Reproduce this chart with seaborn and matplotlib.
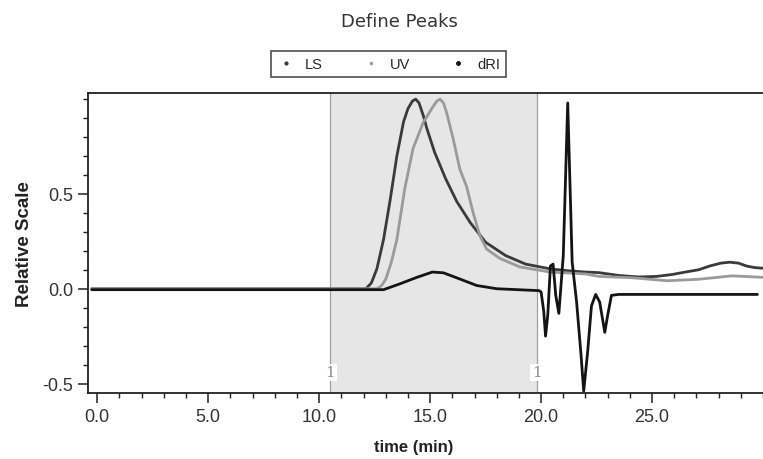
import numpy as np
import pandas as pd
import matplotlib
matplotlib.use("Agg")
import matplotlib.pyplot as plt
import seaborn as sns
from matplotlib.lines import Line2D
from matplotlib.ticker import MultipleLocator, FormatStrFormatter

# ---- data ----
ls_time = [-0.25, 5.0, 10.0, 12.1, 12.35, 12.6, 12.9, 13.2, 13.5, 13.8, 14.0, 14.2, 14.35,
           14.5, 14.7, 14.84, 15.2, 15.7, 16.2, 16.8, 17.5, 18.4, 19.3, 20.4, 21.2, 22.0,
           22.6, 23.5, 24.4, 25.2, 25.9, 26.5, 27.1, 27.6, 28.1, 28.5, 28.9, 29.25, 29.6, 30.0]
ls_value = [0.0, 0.0, 0.0, 0.0, 0.03, 0.105, 0.26, 0.47, 0.70, 0.88, 0.95, 0.99, 1.0,
            0.98, 0.91, 0.85, 0.72, 0.58, 0.46, 0.35, 0.245, 0.175, 0.13, 0.105, 0.095, 0.088,
            0.085, 0.07, 0.062, 0.065, 0.075, 0.088, 0.10, 0.12, 0.135, 0.14, 0.135, 0.12,
            0.112, 0.108]

uv_time = [-0.25, 5.0, 10.0, 12.6, 12.8, 13.0, 13.25, 13.5, 13.86, 14.23, 14.7, 15.1, 15.3,
           15.45, 15.6, 15.74, 16.04, 16.34, 16.64, 16.94, 17.24, 17.54, 18.14, 19.04, 20.4,
           22.0, 22.6, 24.1, 25.7, 27.1, 28.6, 30.0]
uv_value = [0.0, 0.0, 0.0, 0.0, 0.015, 0.05, 0.14, 0.26, 0.53, 0.74, 0.88, 0.955, 0.99,
            1.0, 0.98, 0.93, 0.79, 0.63, 0.54, 0.40, 0.28, 0.21, 0.16, 0.115, 0.088,
            0.078, 0.065, 0.058, 0.042, 0.05, 0.068, 0.06]

dri_time = [-0.25, 5.0, 10.0, 12.9, 13.64, 14.4, 15.1, 15.6, 16.3, 17.1, 18.0, 19.9, 20.0,
            20.12, 20.2, 20.3, 20.42, 20.54, 20.66, 20.8, 21.0, 21.2, 21.4, 21.6, 21.8,
            21.92, 22.1, 22.27, 22.46, 22.64, 22.87, 23.0, 23.17, 23.5, 29.75]
dri_value = [-0.005, -0.005, -0.005, -0.005, 0.026, 0.06, 0.088, 0.084, 0.053, 0.017, 0.0,
             -0.01, -0.017, -0.12, -0.25, -0.14, 0.12, 0.13, -0.035, -0.13, 0.175, 0.98,
             0.14, -0.07, -0.35, -0.54, -0.33, -0.09, -0.03, -0.07, -0.23, -0.14, -0.035,
             -0.03, -0.03]

series_names = ["LS", "UV", "dRI"]
peak_limits = [10.5, 19.8]
x_ticks = [0.0, 5.0, 10.0, 15.0, 20.0, 25.0]
y_ticks = [-0.5, 0.0, 0.5]

colors = {"LS": "#3a3a3a", "UV": "#9a9a9a", "dRI": "#141414"}

df = pd.concat([
    pd.DataFrame({"time": ls_time, "value": ls_value, "series": "LS"}),
    pd.DataFrame({"time": uv_time, "value": uv_value, "series": "UV"}),
    pd.DataFrame({"time": dri_time, "value": dri_value, "series": "dRI"}),
], ignore_index=True)

sns.set_style("ticks")
plt.rcParams["font.family"] = ["Liberation Sans", "DejaVu Sans"]

fig = plt.figure(figsize=(7.63, 4.60), dpi=100)
ax = fig.add_axes([0.1153, 0.1435, 0.8847, 0.6511])

ax.axvspan(peak_limits[0], peak_limits[1], color="#e6e6e6", zorder=0, lw=0)
for xl in peak_limits:
    ax.axvline(xl, color="#a0a0a0", lw=0.9, zorder=1)
    ax.text(xl, -0.44, "1", ha="center", va="center", fontsize=11, color="#8a8a8a",
            family="DejaVu Serif",
            bbox=dict(facecolor="white", edgecolor="none", pad=1.0), zorder=2)

sns.lineplot(data=df, x="time", y="value", hue="series", palette=colors,
             hue_order=series_names, estimator=None, sort=False, lw=2.0,
             legend=False, ax=ax, zorder=3)

ax.set_xlim(-0.42, 30.0)
ax.set_ylim(-0.55, 1.03)
ax.set_xticks(x_ticks)
ax.set_yticks(y_ticks)
ax.xaxis.set_major_formatter(FormatStrFormatter("%.1f"))
ax.yaxis.set_major_formatter(FormatStrFormatter("%.1f"))
ax.xaxis.set_minor_locator(MultipleLocator(1.0))
ax.yaxis.set_minor_locator(MultipleLocator(0.1))
ax.tick_params(axis="both", which="major", length=7, width=1.1, labelsize=13,
               labelcolor="#333333", color="#222222")
ax.tick_params(axis="both", which="minor", length=3.5, width=1.0, color="#222222")
for s in ["left", "top", "bottom"]:
    ax.spines[s].set_color("#222222")
    ax.spines[s].set_linewidth(1.3)
ax.spines["right"].set_visible(False)

ax.set_xlabel("time (min)", fontsize=12, fontweight="bold", color="#222222")
ax.xaxis.set_label_coords((414 - 88) / (763 - 88), -0.155)
ax.set_ylabel("Relative Scale", fontsize=13.5, fontweight="bold", color="#222222", labelpad=7)

fig.text(0.524, 0.952, "Define Peaks", ha="center", va="center", fontsize=13,
         color="#333333", family=["DejaVu Sans"])

handles = [Line2D([], [], ls="none", marker=".", ms=ms, color=colors[n])
           for n, ms in zip(series_names, [4, 3, 5])]
leg = fig.legend(handles, series_names, loc="center", bbox_to_anchor=(0.509, 0.859),
                 ncol=3, frameon=True, fancybox=False, fontsize=10.5, handlelength=1.2,
                 columnspacing=2.7, borderpad=0.4, handletextpad=0.7)
leg.get_frame().set_edgecolor("#222222")
leg.get_frame().set_linewidth(1.2)

fig.savefig("out.png", dpi=100)
